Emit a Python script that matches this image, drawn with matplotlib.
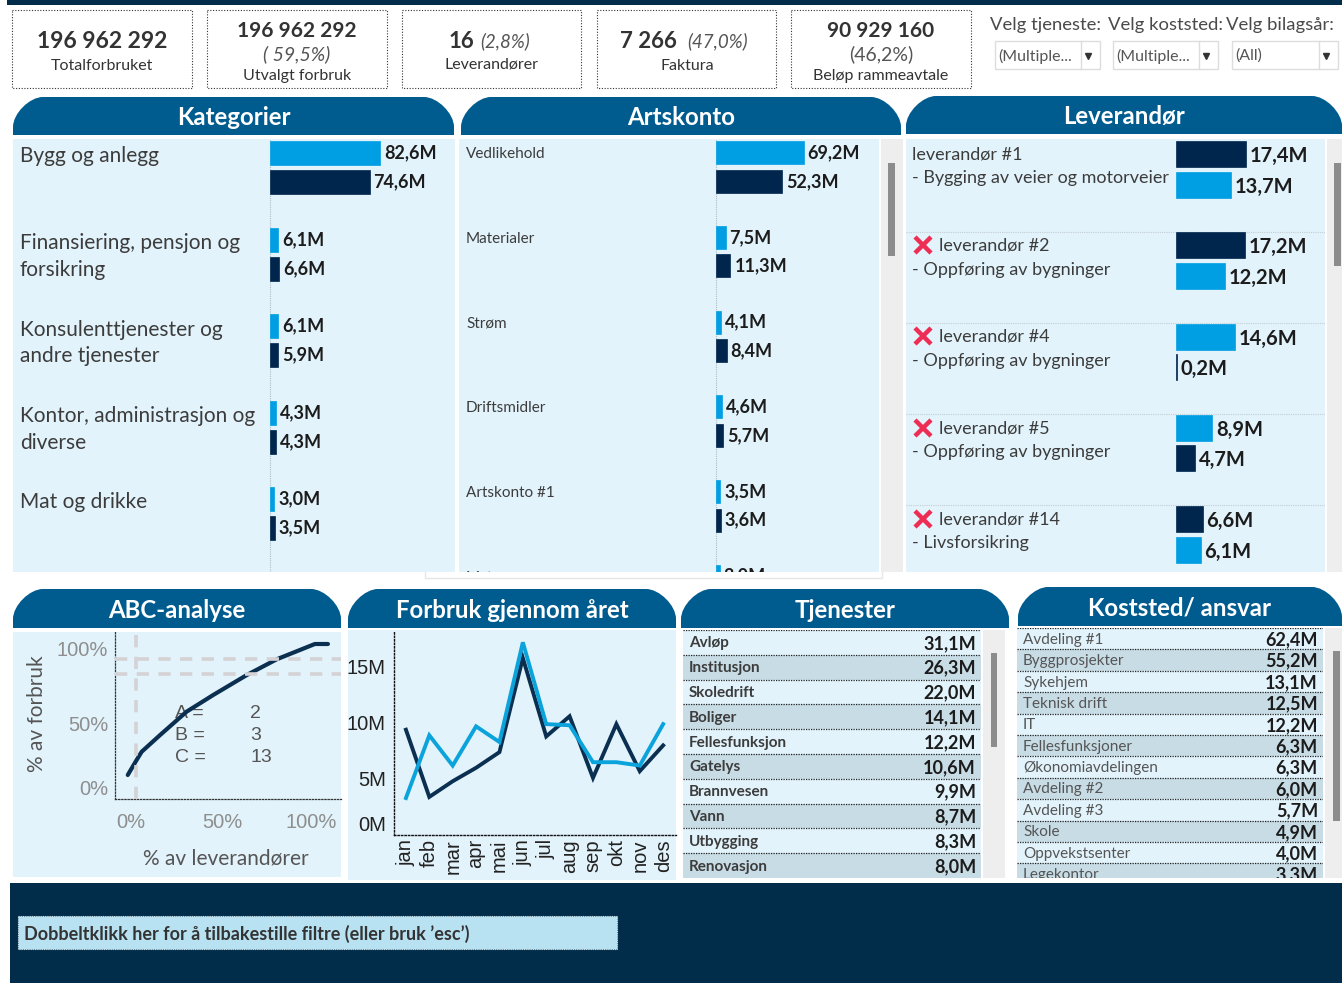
import matplotlib
matplotlib.use("Agg")
import matplotlib.pyplot as plt
from matplotlib.path import Path
from matplotlib.patches import PathPatch, Rectangle
from matplotlib.transforms import ScaledTranslation

W, H = 1342, 983
plt.rcParams['font.family'] = ['Lato', 'DejaVu Sans']

kat_navn = ["Bygg og anlegg", "Finansiering, pensjon og\nforsikring", "Konsulenttjenester og\nandre tjenester",
            "Kontor, administrasjon og\ndiverse", "Mat og drikke"]
kat_lys = [82.6, 6.1, 6.1, 4.3, 3.0]
kat_mork = [74.6, 6.6, 5.9, 4.3, 3.5]

art_navn = ["Vedlikehold", "Materialer", "Strøm", "Driftsmidler", "Artskonto #1", "Matvarer"]
art_lys = [69.2, 7.5, 4.1, 4.6, 3.5, 3.0]
art_mork = [52.3, 11.3, 8.4, 5.7, 3.6, 3.4]

lev_navn = ["leverandør #1", "leverandør #2", "leverandør #4", "leverandør #5", "leverandør #14"]
lev_bransje = ["- Bygging av veier og motorveier", "- Oppføring av bygninger", "- Oppføring av bygninger",
               "- Oppføring av bygninger", "- Livsforsikring"]
lev_lys = [13.7, 12.2, 14.6, 8.9, 6.1]
lev_mork = [17.4, 17.2, 0.2, 4.7, 6.6]
lev_kryss = [False, True, True, True, True]

abc_x = [5.1, 9.3, 11.7, 20.4, 33.0, 45.6, 61.5, 75.7, 93.8, 100.0]
abc_y = [12.7, 22.7, 28.2, 39.3, 54.9, 66.0, 79.3, 89.8, 100.0, 100.0]
abc_klasser = ["A =", "B =", "C ="]
abc_antall = ["2", "3", "13"]

maaneder = ["jan", "feb", "mar", "apr", "mai", "jun", "jul", "aug", "sep", "okt", "nov", "des"]
forbruk_mork = [9.4, 3.4, 4.8, 6.0, 7.4, 15.8, 8.8, 10.6, 5.1, 9.9, 5.7, 8.0]
forbruk_lys = [3.3, 8.9, 6.2, 9.7, 8.3, 17.2, 9.9, 9.8, 6.5, 6.5, 6.2, 9.9]

tjenester = ["Avløp", "Institusjon", "Skoledrift", "Boliger", "Fellesfunksjon", "Gatelys", "Brannvesen",
             "Vann", "Utbygging", "Renovasjon"]
tjenester_verdi = [31.1, 26.3, 22.0, 14.1, 12.2, 10.6, 9.9, 8.7, 8.3, 8.0]

koststed = ["Avdeling #1", "Byggprosjekter", "Sykehjem", "Teknisk drift", "IT", "Fellesfunksjoner",
            "Økonomiavdelingen", "Avdeling #2", "Avdeling #3", "Skole", "Oppvekstsenter", "Legekontor"]
koststed_verdi = [62.4, 55.2, 13.1, 12.5, 12.2, 6.3, 6.3, 6.0, 5.7, 4.9, 4.0, 3.3]

BLA = "#005b8f"
MORK = "#00264d"
LYS = "#009fe3"
BUNN = "#e2f3fb"
STRIPE = "#c8dce5"
GRA = "#8c8c8c"
TEKST = "#3c3c3c"


def mill(v):
    return f"{v:.1f}M".replace(".", ",")


def axes_px(x0, y0, x1, y1, **kw):
    return fig.add_axes([x0 / W, 1 - y1 / H, (x1 - x0) / W, (y1 - y0) / H], **kw)


def header(x0, x1, y0, y1, title, r=30):
    k = r * 0.45
    verts = [(x0, y1), (x0, y0 + r), (x0, y0 + r - k), (x0 + r - k, y0), (x0 + r, y0), (x1 - r, y0),
             (x1 - r + k, y0), (x1, y0 + r - k), (x1, y0 + r), (x1, y1), (x0, y1)]
    codes = [Path.MOVETO, Path.LINETO, Path.CURVE4, Path.CURVE4, Path.CURVE4, Path.LINETO,
             Path.CURVE4, Path.CURVE4, Path.CURVE4, Path.LINETO, Path.CLOSEPOLY]
    page.add_patch(PathPatch(Path(verts, codes), fc=BLA, ec="none"))
    page.text((x0 + x1) / 2, (y0 + y1) / 2 + 1.5, title, color="white", fontsize=17.3, fontweight="bold",
              ha="center", va="center")


def scrollbar(x0, x1, y0, y1, tx0, tx1, ty0, ty1):
    page.add_patch(Rectangle((x0, y0), x1 - x0, y1 - y0, fc="#eeeeee", ec="none"))
    page.add_patch(Rectangle((tx0, ty0), tx1 - tx0, ty1 - ty0, fc=GRA, ec="none"))


def bar_panel(box, zero_px, px_per_m, first_px, step, gap, bar_h, topp, bunn, topp_farge, bunn_farge, size, label_dy=0):
    x0, y0, x1, y1 = box
    ax = axes_px(x0, y0, x1, y1, facecolor=BUNN)
    ax.set_xlim((x0 - zero_px) / px_per_m, (x1 - zero_px) / px_per_m)
    ax.set_ylim((y1 - first_px) / step, (y0 - first_px) / step)
    ax.axis("off")
    ax.add_patch(Rectangle((0, 0), 1, 1, transform=ax.transAxes, fc=BUNN, ec="none", zorder=0))
    for i in range(len(topp)):
        ax.barh(i - gap / 2 / step, topp[i], height=bar_h / step, color=topp_farge[i], edgecolor=topp_farge[i],
                linewidth=0.5, zorder=3)
        ax.barh(i + gap / 2 / step, bunn[i], height=bar_h / step, color=bunn_farge[i], edgecolor=bunn_farge[i],
                linewidth=0.5, zorder=3)
        for v, y in [(topp[i], i - gap / 2 / step), (bunn[i], i + gap / 2 / step)]:
            ax.annotate(mill(v), (v, y), xytext=(4, label_dy), textcoords="offset pixels", fontsize=size,
                        fontweight="bold", color="#1c1c1c", va="center", annotation_clip=False, clip_on=True,
                        zorder=4)
    return ax


def table_panel(box, navn, verdi, row_h, size, name_color, dy):
    x0, y0, x1, y1 = box
    ax = axes_px(x0, y0, x1, y1, facecolor=BUNN)
    ax.set_xlim(0, 1)
    ax.set_ylim((y1 - y0) / row_h, 0)
    ax.set_xticks([])
    ax.set_yticks([])
    for s in ax.spines.values():
        s.set_visible(False)
    for i in range(len(navn)):
        if i % 2 == 1:
            ax.axhspan(i, i + 1, color=STRIPE, lw=0)
        ax.axhline(i, color="#222222", lw=0.9, ls=(0, (1, 1)))
        ax.annotate(navn[i], (0, i + 0.5), xytext=(6, dy), textcoords="offset pixels", fontsize=size,
                    color=name_color, va="center", annotation_clip=False, clip_on=True,
                    fontweight="bold" if name_color == TEKST else "normal")
        ax.annotate(mill(verdi[i]), (1, i + 0.5), xytext=(-5, dy), textcoords="offset pixels", fontsize=size + 2,
                    fontweight="bold", color="#1c1c1c", ha="right",
                    va="center", annotation_clip=False, clip_on=True)
    return ax


def shift_labels(labels, shifts):
    for lab, (dx, dy) in zip(labels, shifts):
        lab.set_transform(lab.get_transform() + ScaledTranslation(dx / 72, dy / 72, fig.dpi_scale_trans))


fig = plt.figure(figsize=(W / 100, H / 100), dpi=100, facecolor="white")
page = fig.add_axes([0, 0, 1, 1], zorder=0)
page.set_xlim(0, W)
page.set_ylim(H, 0)
page.axis("off")

# top strip and bottom band
page.add_patch(Rectangle((7, 0), W - 7, 4.5, fc="#012d4a", ec="none"))
page.add_patch(Rectangle((10, 883), W - 10, 100, fc="#012d4a", ec="none"))
page.add_patch(Rectangle((18, 916), 599, 33, fc="#b8e2f2", ec="#d5e5ea", lw=0.8, ls=(0, (1, 1))))
page.text(24, 934, "Dobbeltklikk her for å tilbakestille filtre (eller bruk ’esc’)", fontsize=13,
          fontweight="bold", color="#333333", va="center")

# KPI boxes
for bx0, bx1 in [(12, 192), (207, 387), (402, 581), (597, 776), (791, 971)]:
    page.add_patch(Rectangle((bx0, 10), bx1 - bx0, 78, fc="white", ec="#333333", lw=0.8, ls=(0, (1, 1.5))))
kpi = dict(color="#333333", va="center")
page.text(102, 42, "196 962 292", fontsize=16.5, fontweight="bold", ha="center", **kpi)
page.text(102, 66.5, "Totalforbruket", fontsize=11.5, ha="center", **kpi)
page.text(297, 31, "196 962 292", fontsize=15, fontweight="bold", ha="center", **kpi)
page.text(297, 54, "( 59,5%)", fontsize=14, style="italic", ha="center", color="#555555", va="center")
page.text(297, 76, "Utvalgt forbruk", fontsize=11.5, ha="center", **kpi)
page.text(474, 41.5, "16", fontsize=16, fontweight="bold", ha="right", **kpi)
page.text(480, 41.5, "(2,8%)", fontsize=13.5, style="italic", ha="left", color="#555555", va="center")
page.text(492, 64.5, "Leverandører", fontsize=11.5, ha="center", **kpi)
page.text(677, 41.5, "7 266", fontsize=16, fontweight="bold", ha="right", **kpi)
page.text(687, 41.5, "(47,0%)", fontsize=13.5, style="italic", ha="left", color="#555555", va="center")
page.text(687, 66.5, "Faktura", fontsize=11.5, ha="center", **kpi)
page.text(881, 31, "90 929 160", fontsize=15, fontweight="bold", ha="center", **kpi)
page.text(881, 54, "(46,2%)", fontsize=14, ha="center", color="#555555", va="center")
page.text(881, 76, "Beløp rammeavtale", fontsize=11.5, ha="center", **kpi)

# filters
for fx, label, tx0, tx1, val in [(990, "Velg tjeneste:", 995, 1100, "(Multiple..."),
                                 (1108, "Velg koststed:", 1113, 1218, "(Multiple..."),
                                 (1226, "Velg bilagsår:", 1232, 1338, "(All)")]:
    page.text(fx, 25, label, fontsize=13.3, color="#4a4a4a", va="center")
    page.add_patch(Rectangle((tx0, 41), tx1 - tx0, 28, fc="white", ec="#dddddd", lw=1))
    page.plot([tx1 - 19, tx1 - 19], [41, 69], color="#dddddd", lw=1)
    page.text(tx0 + 3, 56, val, fontsize=11.5, color="#555555", va="center")
    page.plot([tx1 - 12], [55.5], marker="v", ms=3.8, color="#333333")

header(13, 454, 97, 135, "Kategorier")
header(461, 901, 97, 135, "Artskonto")
header(906, W, 96, 134, "Leverandør")
header(13, 341, 589, 628, "ABC-analyse")
header(348, 676, 589, 628, "Forbruk gjennom året")
header(681, 1009, 589, 628, "Tjenester")
header(1018, W, 587, 626, "Koststed/ ansvar")

scrollbar(881, 903, 139, 572, 888, 895, 163, 256)
scrollbar(1327, W, 139, 572, 1334, 1341, 163, 266)
scrollbar(983, 1005, 630, 878, 991, 997, 653, 747)
scrollbar(1325, W, 628, 878, 1333, 1340, 651, 821)
page.plot([425, 425, 882, 882], [572, 578, 578, 572], color="#e6e6e6", lw=1)

# Kategorier
ax = bar_panel((13, 139, 455, 572), 270, 1.335, 167.5, 86.5, 29, 24, kat_lys, kat_mork,
               [LYS] * 5, [MORK] * 5, 13)
ax.axvline(0, color="#b0bcc4", lw=0.8, ls=(0, (1, 1)), zorder=1)
for i, n in enumerate(kat_navn):
    flere = "\n" in n
    ax.annotate(n, (ax.get_xlim()[0], i), xytext=(7, 21 if flere else 11), textcoords="offset pixels", fontsize=15,
                color=TEKST, va="top" if flere else "center", linespacing=1.42,
                annotation_clip=False, clip_on=True)

# Artskonto
ax = bar_panel((459, 139, 879, 572), 716, 1.268, 167, 84.7, 28.5, 23, art_lys, art_mork,
               [LYS] * 6, [MORK] * 6, 13)
ax.axvline(0, color="#b0bcc4", lw=0.8, ls=(0, (1, 1)), zorder=1)
for i, n in enumerate(art_navn):
    ax.annotate(n, (ax.get_xlim()[0], i), xytext=(7, 13), textcoords="offset pixels", fontsize=11,
                color=TEKST, va="center", annotation_clip=False, clip_on=True)

# Leverandor, largest bar on top
lev_topp = [max(a, b) for a, b in zip(lev_lys, lev_mork)]
lev_bunn = [min(a, b) for a, b in zip(lev_lys, lev_mork)]
topp_farge = [MORK if m > l else LYS for l, m in zip(lev_lys, lev_mork)]
bunn_farge = [LYS if m > l else MORK for l, m in zip(lev_lys, lev_mork)]
ax = bar_panel((906, 139, 1325, 572), 1176, 4.02, 169.5, 91.2, 30.5, 26, lev_topp, lev_bunn,
               topp_farge, bunn_farge, 14.5, label_dy=-2)
for i in range(len(lev_navn)):
    ax.axhline(i + 0.68, color="#c4ced4", lw=0.8, ls=(0, (1, 1)))
    x_left = ax.get_xlim()[0]
    if lev_kryss[i]:
        ax.plot([(923 - 1176) / 4.02], [i - 15.5 / 91.2], marker="x", ms=12, mew=3.2, color="#ee2d55",
                linestyle="none", zorder=4)
    ax.annotate(lev_navn[i], (x_left, i), xytext=(33 if lev_kryss[i] else 6, 15), textcoords="offset pixels",
                fontsize=13, color=TEKST, va="center", annotation_clip=False, clip_on=True)
    ax.annotate(lev_bransje[i], (x_left, i), xytext=(6, -9), textcoords="offset pixels", fontsize=13,
                color=TEKST, va="center", annotation_clip=False, clip_on=True)

# ABC
abc_bg = axes_px(13, 632, 341, 877, facecolor=BUNN)
abc_bg.set_xticks([])
abc_bg.set_yticks([])
for s in abc_bg.spines.values():
    s.set_visible(False)
ax = axes_px(115, 632, 341, 799, facecolor=BUNN)
ax.set_xlim(-0.95, 106.2)
ax.set_ylim(-3.3, 108)
for s in ["top", "right"]:
    ax.spines[s].set_visible(False)
for s in ["left", "bottom"]:
    ax.spines[s].set_linestyle((0, (1, 1.5)))
    ax.spines[s].set_linewidth(0.9)
    ax.spines[s].set_color("#333333")
ax.plot(abc_x, abc_y, color="#0b2f50", lw=3, solid_capstyle="round", zorder=3)
dash = dict(color="#d4d2d4", lw=2.6, ls=(0, (3.4, 2.6)), zorder=4)
ax.axvline(9, **dash)
ax.axhline(80, **dash)
ax.axhline(90, **dash)
ax.set_xticks([0, 50, 100], ["0%", "50%", "100%"], family="Liberation Sans", fontsize=14.5, color="#8e8e8e")
ax.set_yticks([0, 50, 100], ["0%", "50%", "100%"], family="Liberation Sans", fontsize=14.5, color="#8e8e8e")
ax.tick_params(length=0, pad=9)
ax.tick_params(axis="y", pad=5)
shift_labels(ax.get_xticklabels(), [(10, -1), (0, -1), (-12, -1)])
shift_labels(ax.get_yticklabels(), [(0, 5), (0, -3), (0, -3)])
ax.set_xlabel("% av leverandører", fontsize=15, color="#555555", labelpad=12, x=0.49)
ax.set_ylabel("% av forbruk", fontsize=15, color="#555555", labelpad=7)
ax.yaxis.label.set_y(0.51)
for i, k in enumerate(abc_klasser):
    ax.annotate(k, (0, 0), xycoords="axes pixels", xytext=(60, 85 - i * 22), textcoords="axes pixels",
                fontsize=14, family="Liberation Sans", color="#555555", va="center", zorder=2)
    ax.annotate(abc_antall[i], (0, 0), xycoords="axes pixels", xytext=(135, 85 - i * 22), textcoords="axes pixels",
                fontsize=14, family="Liberation Sans", color="#555555", va="center", zorder=2)

# Forbruk
fb_bg = axes_px(348, 630, 676, 880, facecolor=BUNN)
fb_bg.set_xticks([])
fb_bg.set_yticks([])
for s in fb_bg.spines.values():
    s.set_visible(False)
ax = axes_px(394, 632, 676, 835, facecolor=BUNN)
ax.set_xlim(-0.51, 11.55)
ax.set_ylim(0, 203 / 11.2)
for s in ["top", "right"]:
    ax.spines[s].set_visible(False)
for s in ["left", "bottom"]:
    ax.spines[s].set_linestyle((0, (1, 1.5)))
    ax.spines[s].set_linewidth(1)
    ax.spines[s].set_color("#111111")
ax.plot(maaneder, forbruk_mork, color="#0b2f50", lw=2.8, solid_joinstyle="miter")
ax.plot(maaneder, forbruk_lys, color="#0ba3dc", lw=2.8, solid_joinstyle="miter")
ax.set_xticks(range(12), maaneder, rotation=90, family="Liberation Sans", fontsize=14.5, color="#222222")
ax.set_yticks([0, 5, 10, 15], ["0M", "5M", "10M", "15M"], family="Liberation Sans", fontsize=14.5, color="#222222")
ax.tick_params(length=0)
ax.tick_params(axis="x", pad=3)
ax.tick_params(axis="y", pad=6)
shift_labels(ax.get_yticklabels(), [(0, 8), (0, 0), (0, 0), (0, 0)])

# tables
table_panel((683, 630, 981, 878), tjenester, tjenester_verdi, 24.8, 11, TEKST, -1)
table_panel((1017, 628, 1323, 878), koststed, koststed_verdi, 21.4, 11, "#555555", -1)

fig.savefig("out.png", dpi=100, facecolor="white")
